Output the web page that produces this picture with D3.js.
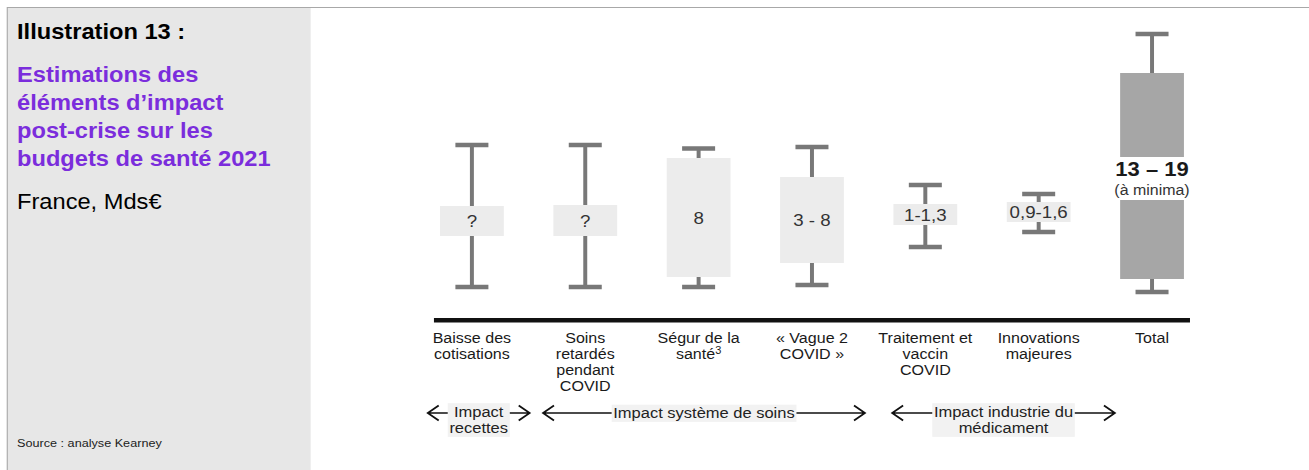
<!DOCTYPE html>
<html>
<head>
<meta charset="utf-8">
<script src="https://cdn.jsdelivr.net/npm/d3@7"></script>
<style>
  html, body { margin: 0; padding: 0; background: #ffffff; }
  svg { display: block; font-family: "Liberation Sans", Arial, sans-serif; }
</style>
</head>
<body>
<svg id="chart" width="1309" height="470" viewBox="0 0 1190 470" preserveAspectRatio="none"></svg>
<script>
// ---------------- data ----------------
const categories = ["Baisse des cotisations", "Soins retardés pendant COVID", "Ségur de la santé", "Vague 2 COVID", "Traitement et vaccin COVID", "Innovations majeures", "Total"];
const categoryLines = [
  ["Baisse des", "cotisations"],
  ["Soins", "retardés", "pendant", "COVID"],
  ["Ségur de la", "santé"],
  ["« Vague 2", "COVID  »"],
  ["Traitement et", "vaccin", "COVID"],
  ["Innovations", "majeures"],
  ["Total"]
];
const footnoteMarks = ["", "", "3", "", "", "", ""];
const whiskerLow  = [3.3, 3.3, 3.3, 3.5, 7.3, 8.8, 2.8];
const whiskerHigh = [17.5, 17.5, 17.15, 17.3, 13.5, 12.6, 28.6];
const boxLow      = [8.4, 8.4, 4.3, 5.7, 9.5, 9.8, 4.1];
const boxHigh     = [11.4, 11.5, 16.2, 14.3, 11.6, 11.8, 24.7];
const boxLabels   = ["?", "?", "8", "3 - 8", "1-1,3", "0,9-1,6", "13 – 19"];
const totalNote   = "(à minima)";

const groupLabels = [["Impact", "recettes"], ["Impact système de soins"], ["Impact industrie du", "médicament"]];
const groupStart  = [-0.39, 0.627, 3.707];   // in category-index units
const groupEnd    = [0.51, 3.468, 5.673];

const titleLabel = "Illustration 13 :";
const subtitleLines = ["Estimations des", "éléments d’impact", "post-crise sur les", "budgets de santé 2021"];
const unitLabel = "France, Mds€";
const sourceLabel = "Source : analyse Kearney";

// ---------------- layout ----------------
const svg = d3.select("#chart");
const W = 1190;
const purple = "#7b2ddc";
const whiskerColor = "#787878";

// left panel
svg.append("rect").attr("x", 6.4).attr("y", 7).attr("width", 276).attr("height", 470)
  .attr("fill", "#e7e7e7");
svg.append("line").attr("x1", 6.4).attr("x2", W).attr("y1", 7.5).attr("y2", 7.5)
  .attr("stroke", "#a8a8a8").attr("stroke-width", 1);
svg.append("line").attr("x1", 6.6).attr("x2", 6.6).attr("y1", 7).attr("y2", 470)
  .attr("stroke", "#a8a8a8").attr("stroke-width", 1);

svg.append("text").attr("x", 15.5).attr("y", 39).attr("font-size", 21.5).attr("font-weight", "bold")
  .attr("fill", "#000").text(titleLabel);
svg.append("g").selectAll("text").data(subtitleLines).join("text")
  .attr("x", 15.5).attr("y", (d, i) => 82 + i * 28)
  .attr("font-size", 21.5).attr("font-weight", "bold").attr("fill", purple).text(d => d);
svg.append("text").attr("x", 15.5).attr("y", 209).attr("font-size", 21.5)
  .attr("fill", "#000").text(unitLabel);
svg.append("text").attr("x", 15.5).attr("y", 447).attr("font-size", 11.5)
  .attr("fill", "#222").text(sourceLabel);

// scales
const x = d3.scalePoint().domain(categories).range([429, 1047.3]);
const xi = d3.scaleLinear().domain([0, categories.length - 1]).range([429, 1047.3]);
const y = d3.scaleLinear().domain([0, 30]).range([320, 20]);

const boxW = 58, capW = 30, capH = 4.5, stemW = 3.6;

const data = categories.map((c, i) => ({
  c, i, lo: whiskerLow[i], hi: whiskerHigh[i], blo: boxLow[i], bhi: boxHigh[i],
  label: boxLabels[i], total: i === categories.length - 1
}));

const g = svg.append("g");
// stems
g.selectAll(".stem").data(data).join("rect").attr("class", "stem")
  .attr("x", d => x(d.c) - stemW / 2).attr("width", stemW)
  .attr("y", d => y(d.hi)).attr("height", d => y(d.lo) - y(d.hi))
  .attr("fill", whiskerColor);
// caps
g.selectAll(".capT").data(data).join("rect").attr("class", "capT")
  .attr("x", d => x(d.c) - capW / 2).attr("width", capW)
  .attr("y", d => y(d.hi) - capH / 2).attr("height", capH).attr("fill", whiskerColor);
g.selectAll(".capB").data(data).join("rect").attr("class", "capB")
  .attr("x", d => x(d.c) - capW / 2).attr("width", capW)
  .attr("y", d => y(d.lo) - capH / 2).attr("height", capH).attr("fill", whiskerColor);
// boxes
g.selectAll(".box").data(data).join("rect").attr("class", "box")
  .attr("x", d => x(d.c) - boxW / 2).attr("width", boxW)
  .attr("y", d => y(d.bhi)).attr("height", d => y(d.blo) - y(d.bhi))
  .attr("fill", d => d.total ? "#a6a6a6" : "#ececec");

// box labels (non-total)
g.selectAll(".blabel").data(data.filter(d => !d.total)).join("text").attr("class", "blabel")
  .attr("x", d => x(d.c)).attr("y", d => (y(d.blo) + y(d.bhi)) / 2).attr("dy", "0.38em")
  .attr("text-anchor", "middle").attr("font-size", 17).attr("fill", "#333").text(d => d.label);

// total label with white gap
const tot = data[data.length - 1];
const tx = x(tot.c);
g.append("rect").attr("x", tx - boxW / 2 - 1).attr("width", boxW + 2)
  .attr("y", 157).attr("height", 43).attr("fill", "#fff");
g.append("text").attr("x", tx).attr("y", 176).attr("text-anchor", "middle")
  .attr("font-size", 20).attr("font-weight", "bold").attr("fill", "#1a1a1a").text(tot.label);
g.append("text").attr("x", tx).attr("y", 195).attr("text-anchor", "middle")
  .attr("font-size", 14.5).attr("fill", "#333").text(totalNote);

// baseline
svg.append("rect").attr("x", xi(0) - 34.5).attr("width", xi(categories.length - 1) - xi(0) + 69)
  .attr("y", 318).attr("height", 4.5).attr("fill", "#111");

// category labels
const cl = svg.append("g").selectAll("text").data(data).join("text")
  .attr("text-anchor", "middle").attr("font-size", 14.6).attr("fill", "#1a1a1a");
cl.each(function(d) {
  const t = d3.select(this);
  const lines = categoryLines[d.i];
  lines.forEach((ln, k) => {
    const isLast = k === lines.length - 1;
    const mark = footnoteMarks[d.i];
    const ts = t.append("tspan").attr("x", x(d.c) - (isLast && mark ? 0 : 0))
      .attr("y", 343.5 + k * 16).text(ln);
    if (isLast && mark) {
      t.append("tspan").attr("font-size", 10).attr("dy", -5).text(mark);
    }
  });
});

// annotation arrows
const ag = svg.append("g");
const arrowY = 413;
groupLabels.forEach((lines, i) => {
  const x0 = xi(groupStart[i]), x1 = xi(groupEnd[i]);
  const cx = (x0 + x1) / 2;
  const lh = 16.5;
  const t = ag.append("text").attr("text-anchor", "middle").attr("font-size", 15).attr("fill", "#222");
  const firstBase = lines.length === 1 ? arrowY + 5.5 : arrowY + 4;
  lines.forEach((ln, k) => {
    t.append("tspan").attr("x", cx).attr("y", firstBase + k * lh).text(ln);
  });
  const bb = t.node().getBBox();
  const pad = 1.5;
  ag.insert("rect", () => t.node())
    .attr("x", bb.x - pad).attr("y", bb.y - 0.5).attr("width", bb.width + 2 * pad).attr("height", bb.height + 1)
    .attr("fill", "#f2f2f2");
  const lx0 = bb.x - pad, lx1 = bb.x + bb.width + pad;
  const hw = 10, hh = 7.5;
  // left arrow
  ag.append("path").attr("d", `M${lx0},${arrowY}H${x0}M${x0 + hw},${arrowY - hh}L${x0},${arrowY}L${x0 + hw},${arrowY + hh}`)
    .attr("fill", "none").attr("stroke", "#111").attr("stroke-width", 1.6);
  // right arrow
  ag.append("path").attr("d", `M${lx1},${arrowY}H${x1}M${x1 - hw},${arrowY - hh}L${x1},${arrowY}L${x1 - hw},${arrowY + hh}`)
    .attr("fill", "none").attr("stroke", "#111").attr("stroke-width", 1.6);
});
</script>
</body>
</html>
